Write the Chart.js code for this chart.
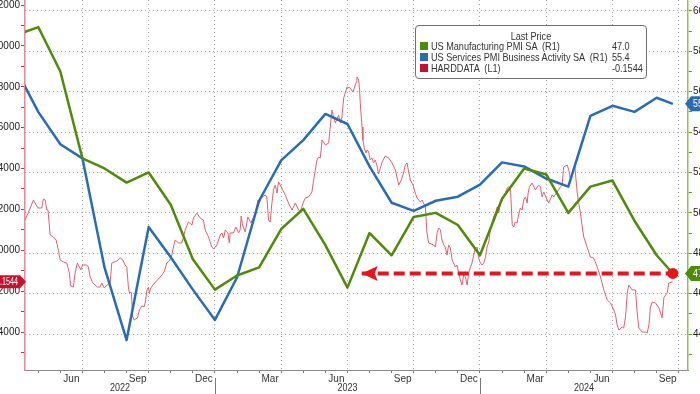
<!DOCTYPE html>
<html>
<head>
<meta charset="utf-8">
<script src="https://cdn.jsdelivr.net/npm/chart.js@4.4.1/dist/chart.umd.min.js"></script>
<style>
html,body{margin:0;padding:0;width:700px;height:394px;overflow:hidden;background:#fff;}
body{position:relative;}
#wrap{position:absolute;left:-35px;top:-20px;width:760px;height:420px;}
#legend{position:absolute;left:415px;top:25px;width:232px;height:54px;box-sizing:border-box;border:1px solid #6e6e6e;border-radius:4px;background:#fff;
  font-family:'Liberation Sans',Arial,sans-serif;font-size:11px;color:#333;white-space:pre;overflow:hidden;}
#legend .txt{position:absolute;left:0;top:0;width:277px;height:52px;transform:scaleX(0.83);transform-origin:0 0;}
#legend .t{position:absolute;left:0;right:0;top:5px;text-align:center;line-height:11px;}
#legend .n,#legend .v{position:absolute;line-height:11px;height:11px;}
#legend .sq{position:absolute;left:4px;width:8px;height:8px;}
</style>
</head>
<body>
<div id="wrap"><canvas id="c" width="760" height="420"></canvas></div>
<div id="legend"></div>
<script>
// ---------- DATA ----------
// x positions are expressed in months since 2022-01-01 (e.g. 12 = 2023-01-01)
const xStartDate = '2022-04-13';
const xEndDate = '2024-10-14';

// Monthly PMI observation dates (month end; last one = Sep-2024 flash release)
const pmiDates = [
  '2022-03-31','2022-04-30','2022-05-31','2022-06-30','2022-07-31','2022-08-31','2022-09-30','2022-10-31','2022-11-30','2022-12-31',
  '2023-01-31','2023-02-28','2023-03-31','2023-04-30','2023-05-31','2023-06-30','2023-07-31','2023-08-31','2023-09-30','2023-10-31','2023-11-30','2023-12-31',
  '2024-01-31','2024-02-29','2024-03-31','2024-04-30','2024-05-31','2024-06-30','2024-07-31','2024-08-31','2024-09-23'
];
const mfgPMI = [58.8,59.2,57.0,52.7,52.2,51.5,52.0,50.4,47.7,46.2,
  46.9,47.3,49.2,50.2,48.4,46.3,49.0,47.9,49.8,50.0,49.4,47.9,
  50.7,52.2,51.9,50.0,51.3,51.6,49.6,47.9,47.0];
const svcPMI = [57.1,55.0,53.4,52.7,47.3,43.7,49.3,47.8,46.2,44.7,
  46.8,50.6,52.6,53.6,54.9,54.4,52.3,50.5,50.1,50.6,50.8,51.4,
  52.5,52.3,51.7,51.3,54.8,55.3,55.0,55.7,55.4];

// HARDDATA (L1), daily-ish readings: time in months since 2022-01-01
const hardMonths = [3.40,3.60,3.78,3.90,3.99,4.16,4.23,4.31,4.39,4.44,4.54,4.69,4.81,4.91,4.99,5.14,5.29,5.41,5.47,5.59,
5.67,5.77,5.86,5.93,6.00,6.20,6.27,6.35,6.47,6.68,6.80,6.88,6.98,7.18,7.25,7.33,7.56,7.71,7.83,7.93,
8.01,8.08,8.13,8.21,8.28,8.34,8.49,8.58,8.69,8.79,8.85,8.92,8.99,9.03,9.10,9.19,9.40,9.60,9.70,9.82,
9.94,10.05,10.12,10.20,10.35,10.50,10.58,10.65,10.80,10.96,11.03,11.18,11.33,11.48,11.56,11.71,11.86,11.94,12.09,12.24,
12.32,12.39,12.47,12.59,12.65,12.69,12.84,12.95,13.07,13.14,13.19,13.25,13.37,13.49,13.63,13.75,13.82,13.95,14.01,14.10,
14.28,14.35,14.43,14.50,14.58,14.65,14.73,14.81,14.88,15.03,15.18,15.33,15.49,15.64,15.79,15.86,16.01,16.09,16.24,16.39,
16.47,16.62,16.69,16.77,16.85,17.00,17.15,17.22,17.30,17.37,17.45,17.60,17.68,17.75,17.83,17.98,18.13,18.25,18.31,18.40,
18.43,18.51,18.55,18.58,18.66,18.70,18.76,18.84,18.89,18.96,19.03,19.11,19.18,19.26,19.34,19.41,19.57,19.71,19.86,20.02,
20.17,20.32,20.44,20.54,20.62,20.70,20.77,20.85,20.98,21.07,21.15,21.30,21.38,21.53,21.60,21.68,21.90,21.98,22.06,22.13,
22.21,22.28,22.36,22.43,22.51,22.58,22.66,22.74,22.89,22.96,23.04,23.11,23.19,23.26,23.34,23.42,23.49,23.57,23.64,23.79,
23.87,23.94,24.02,24.10,24.17,24.25,24.32,24.40,24.47,24.62,24.70,24.78,24.85,24.93,25.07,25.15,25.23,25.30,25.38,25.46,
25.53,25.60,25.68,25.75,25.83,25.91,25.98,26.06,26.14,26.18,26.24,26.36,26.51,26.66,26.74,26.81,26.89,27.04,27.11,27.27,
27.34,27.49,27.64,27.72,27.79,27.95,28.02,28.10,28.17,28.29,28.35,28.40,28.47,28.55,28.63,28.70,28.85,29.00,29.15,29.31,
29.46,29.61,29.76,29.91,30.06,30.14,30.21,30.29,30.44,30.51,30.59,30.67,30.74,30.89,31.04,31.12,31.19,31.35,31.50,31.57,
31.65,31.72,31.80,31.95,32.10,32.25,32.33,32.48,32.55,32.73];
const hardValues = [0.148,0.197,0.246,0.222,0.207,0.207,0.251,0.246,0.197,0.197,0.075,0.065,0.050,0.001,-0.047,-0.057,-0.062,-0.111,-0.175,-0.180,
-0.111,-0.062,-0.082,-0.096,-0.072,-0.072,-0.082,-0.131,-0.160,-0.180,-0.180,-0.160,-0.184,-0.165,-0.170,-0.062,-0.052,-0.038,-0.047,-0.072,
-0.082,-0.180,-0.209,-0.204,-0.326,-0.341,-0.331,-0.292,-0.272,-0.277,-0.253,-0.194,-0.180,-0.209,-0.184,-0.170,-0.145,-0.121,-0.106,-0.062,
-0.052,-0.023,0.016,0.050,0.036,0.036,0.065,0.099,0.138,0.124,0.158,0.182,0.158,0.148,0.099,0.065,0.016,0.006,0.026,0.075,
0.085,0.060,0.099,0.085,0.036,0.085,0.085,0.114,0.085,0.099,0.168,0.124,0.090,0.163,0.134,0.163,0.182,0.246,0.231,0.256,
0.271,0.261,0.148,0.138,0.231,0.295,0.319,0.280,0.334,0.305,0.271,0.231,0.197,0.231,0.197,0.187,0.236,0.256,0.261,0.285,
0.344,0.442,0.456,0.452,0.540,0.515,0.525,0.603,0.686,0.652,0.623,0.662,0.623,0.652,0.745,0.799,0.794,0.774,0.794,0.823,
0.848,0.833,0.784,0.721,0.603,0.540,0.500,0.476,0.491,0.481,0.442,0.452,0.427,0.442,0.412,0.373,0.432,0.461,0.452,0.427,
0.393,0.319,0.344,0.378,0.417,0.427,0.383,0.344,0.315,0.280,0.256,0.236,0.246,0.212,0.085,0.036,0.026,0.016,0.085,0.109,
0.099,0.050,0.026,0.016,-0.023,0.026,0.011,-0.047,-0.082,-0.072,-0.111,-0.145,-0.170,-0.121,-0.131,-0.170,-0.111,-0.082,-0.062,0.011,
0.016,-0.038,-0.062,-0.072,-0.062,-0.033,0.016,0.041,0.099,0.163,0.182,0.212,0.182,0.231,0.261,0.280,0.305,0.310,0.305,0.124,
0.114,0.138,0.134,0.173,0.207,0.197,0.246,0.261,0.231,0.280,0.310,0.329,0.295,0.319,0.310,0.261,0.285,0.246,0.231,0.271,
0.261,0.285,0.310,0.319,0.407,0.417,0.393,0.344,0.378,0.417,0.344,0.285,0.231,0.182,0.114,0.065,0.016,-0.033,-0.038,-0.082,
-0.131,-0.194,-0.243,-0.258,-0.292,-0.317,-0.365,-0.390,-0.375,-0.380,-0.326,-0.209,-0.170,-0.194,-0.194,-0.307,-0.380,-0.400,-0.400,-0.405,
-0.365,-0.277,-0.253,-0.258,-0.282,-0.331,-0.229,-0.209,-0.160,-0.1544];

// Annotation arrow: from mid-Jul 2023 to the latest manufacturing reading, at the 47.0 level
const arrowDates = ['2023-07-21','2024-09-23'];
const arrowLevel = 47.0;

// Axis tick labels
const monthTickLabels = [['2022-06','Jun'],['2022-09','Sep'],['2022-12','Dec'],['2023-03','Mar'],['2023-06','Jun'],
  ['2023-09','Sep'],['2023-12','Dec'],['2024-03','Mar'],['2024-06','Jun'],['2024-09','Sep']];
const yearLabels = ['2022','2023','2024'];
const rightTicks = [44,46,48,50,52,54,56,58,60];
const leftTicks = [-0.4,-0.2,0,0.2,0.4,0.6,0.8,1.0,1.2];

const seriesNames = ['US Manufacturing PMI SA  (R1)','US Services PMI Business Activity SA  (R1)','HARDDATA  (L1)'];
const seriesColors = ['#4f8b0b','#2a6cb3','#c8102e'];

// ---------- helpers ----------
function dim(y,m){return new Date(y,m,0).getDate();}
function toM(s){const p=s.split('-').map(Number);const y=p[0],m=p[1],d=p[2]||1;
  return (y-2022)*12+(m-1)+(d===dim(y,m)?1:(d-1)/dim(y,m));}
function monthMid(s){return toM(s+'-01')+0.5;}

const xMin = toM(xStartDate), xMax = toM(xEndDate);
const pmiX = pmiDates.map(toM);
const labelMap = {};
monthTickLabels.forEach(([k,l])=>{labelMap[monthMid(k).toFixed(2)]=l;});

const FONT = "'Liberation Sans',Arial,sans-serif";
Chart.defaults.font.family = FONT;
Chart.defaults.color = '#222';
const GRID = '#a8a8a8';

const xTickVals = [];
for (let m = Math.ceil(xMin); m <= Math.floor(xMax); m++) xTickVals.push(m);
monthTickLabels.forEach(([k])=>xTickVals.push(monthMid(k)));
xTickVals.sort((a,b)=>a-b);

function squeezeText(ctx, txt, x, y, sx){
  ctx.save(); ctx.translate(x, y); ctx.scale(sx, 1); ctx.fillText(txt, 0, 0); ctx.restore();
}

const overlay = {
  id:'overlay',
  afterDatasetsDraw(chart){
    const ctx = chart.ctx;
    const meta = chart.getDatasetMeta(0);
    const p = meta.data[0];
    ctx.save();
    ctx.fillStyle = '#e8141c';
    ctx.beginPath();
    ctx.moveTo(p.x, p.y);
    ctx.lineTo(p.x+16, p.y-7.5);
    ctx.lineTo(p.x+13, p.y);
    ctx.lineTo(p.x+16, p.y+7.5);
    ctx.closePath();
    ctx.fill();
    ctx.restore();
  },
  afterDraw(chart){
    const ctx = chart.ctx, a = chart.chartArea;
    const xs = chart.scales.x, yR = chart.scales.yR, yL = chart.scales.yL;
    ctx.save();
    // year labels + separators
    ctx.font = '10px ' + FONT; ctx.fillStyle = '#333'; ctx.textAlign='center'; ctx.textBaseline='middle';
    yearLabels.forEach(yl=>{
      const s = toM(yl+'-01-01'), e = s+12;
      const lo = Math.max(s,xMin), hi = Math.min(e,xMax);
      squeezeText(ctx, yl, xs.getPixelForValue((lo+hi)/2), a.bottom+18.5, 0.9);
      if (s > xMin) {
        const x = Math.round(xs.getPixelForValue(s))+0.5;
        ctx.strokeStyle = '#777'; ctx.lineWidth = 1;
        ctx.beginPath(); ctx.moveTo(x, a.bottom+8); ctx.lineTo(x, a.bottom+40); ctx.stroke();
      }
    });
    // right badges
    const rb = (val, txt, col) => {
      const y = yR.getPixelForValue(val), x = a.right;
      ctx.fillStyle = col;
      ctx.beginPath();
      ctx.moveTo(x-3, y); ctx.lineTo(x+3, y-7.5); ctx.lineTo(x+60, y-7.5); ctx.lineTo(x+60, y+7.5); ctx.lineTo(x+3, y+7.5);
      ctx.closePath(); ctx.fill();
      ctx.fillStyle = '#fff'; ctx.font = '11px ' + FONT; ctx.textAlign='left'; ctx.textBaseline='middle';
      squeezeText(ctx, txt, x+5, y+0.5, 0.8);
    };
    rb(svcPMI[svcPMI.length-1], svcPMI[svcPMI.length-1].toFixed(1), seriesColors[1]);
    rb(mfgPMI[mfgPMI.length-1], mfgPMI[mfgPMI.length-1].toFixed(1), seriesColors[0]);
    // left badge
    const lv = hardValues[hardValues.length-1];
    const y = yL.getPixelForValue(lv), x = a.left;
    ctx.fillStyle = seriesColors[2];
    ctx.beginPath();
    ctx.moveTo(x+1, y); ctx.lineTo(x-5, y-6.5); ctx.lineTo(x-80, y-6.5); ctx.lineTo(x-80, y+6.5); ctx.lineTo(x-5, y+6.5);
    ctx.closePath(); ctx.fill();
    ctx.fillStyle = '#fff'; ctx.font = '10px ' + FONT; ctx.textAlign='right'; ctx.textBaseline='middle';
    squeezeText(ctx, lv.toFixed(4), x-7, y+0.5, 0.72);
    ctx.restore();
  }
};

const chart = new Chart(document.getElementById('c'), {
  type:'line',
  data:{
    datasets:[
      {label:'arrow', yAxisID:'yR', data: arrowDates.map(d=>({x:toM(d), y:arrowLevel})),
        borderColor:'#e8141c', borderWidth:4, borderDash:[11,5], pointRadius:[0,5.5], pointBackgroundColor:'#e8141c',
        pointBorderWidth:0, clip:false},
      {label:seriesNames[0], yAxisID:'yR', data: pmiX.map((x,i)=>({x, y:mfgPMI[i]})),
        borderColor:'#4f8b0b', borderWidth:2.5, pointRadius:0, clip:0},
      {label:seriesNames[1], yAxisID:'yR', data: pmiX.map((x,i)=>({x, y:svcPMI[i]})),
        borderColor:'#2a6cb3', borderWidth:2.5, pointRadius:0, clip:0},
      {label:seriesNames[2], yAxisID:'yL', data: hardMonths.map((x,i)=>({x, y:hardValues[i]})),
        borderColor:'#e26070', borderWidth:1, pointRadius:0, clip:0}
    ]
  },
  options:{
    responsive:false, animation:false, devicePixelRatio:1,
    layout:{padding:{top:20,left:0,right:0,bottom:0}},
    plugins:{legend:{display:false}, tooltip:{enabled:false}},
    elements:{line:{tension:0, borderJoinStyle:'round'}},
    scales:{
      x:{type:'linear', min:xMin, max:xMax, position:'bottom',
        afterBuildTicks:s=>{s.ticks = xTickVals.map(v=>({value:v}));},
        afterFit:s=>{s.height = 30;},
        border:{display:true, color:'#8a8a8a', width:1, dash:[1.2,2.8]},
        grid:{drawOnChartArea:true, tickLength:3,
          color:c=>(c.tick && Number.isInteger(c.tick.value) && c.tick.value%3===0)?GRID:'rgba(0,0,0,0)',
          tickColor:c=>(c.tick && Number.isInteger(c.tick.value))?'#777':'rgba(0,0,0,0)'},
        ticks:{autoSkip:false, maxRotation:0, padding:0, color:'#333', font:{size:10},
          callback:v=>labelMap[v.toFixed(2)]||''}
      },
      yR:{type:'linear', position:'right', min:42.22, max:60.54,
        afterBuildTicks:s=>{const t=[];for(let v=43;v<=60;v++)t.push({value:v});s.ticks=t;},
        afterFit:s=>{s.width = 37;},
        border:{display:true, color:'#8cc24e', width:1.5, dash:[1.2,2.8]},
        grid:{drawOnChartArea:true, tickLength:4, tickColor:'#5f9e23',
          color:c=>(c.tick && rightTicks.includes(c.tick.value))?GRID:'rgba(0,0,0,0)'},
        ticks:{padding:1, color:'#222', font:{size:10},
          callback:v=>rightTicks.includes(v)?String(v):''}
      },
      yL:{type:'linear', position:'left', min:-0.5857, max:1.2245,
        afterBuildTicks:s=>{const t=[];for(let k=-5;k<=12;k++)t.push({value:k/10});s.ticks=t;},
        afterFit:s=>{s.width = 60;},
        border:{display:true, color:'#e58a96', width:1.5},
        grid:{drawOnChartArea:false, tickLength:4, tickColor:'#d0304a'},
        ticks:{padding:1, color:'#222', font:{size:10},
          callback:v=>leftTicks.some(t=>Math.abs(t-v)<1e-9)?v.toFixed(4):''}
      }
    }
  },
  plugins:[overlay]
});

// Legend (Last Price table)
const lastVals = [mfgPMI[mfgPMI.length-1].toFixed(1), svcPMI[svcPMI.length-1].toFixed(1), hardValues[hardValues.length-1].toFixed(4)];
const lg = document.getElementById('legend');
let html = '';
seriesNames.forEach((n,i)=>{
  html += '<span class="sq" style="top:'+(16+i*11)+'px;background:'+seriesColors[i]+'"></span>';
});
html += '<div class="txt"><div class="t">Last Price</div>';
seriesNames.forEach((n,i)=>{
  html += '<span class="n" style="left:18px;top:'+(15+i*11)+'px">'+n+'</span>'+
          '<span class="v" style="left:236px;top:'+(15+i*11)+'px">'+lastVals[i]+'</span>';
});
html += '</div>';
lg.innerHTML = html;
</script>
</body>
</html>
